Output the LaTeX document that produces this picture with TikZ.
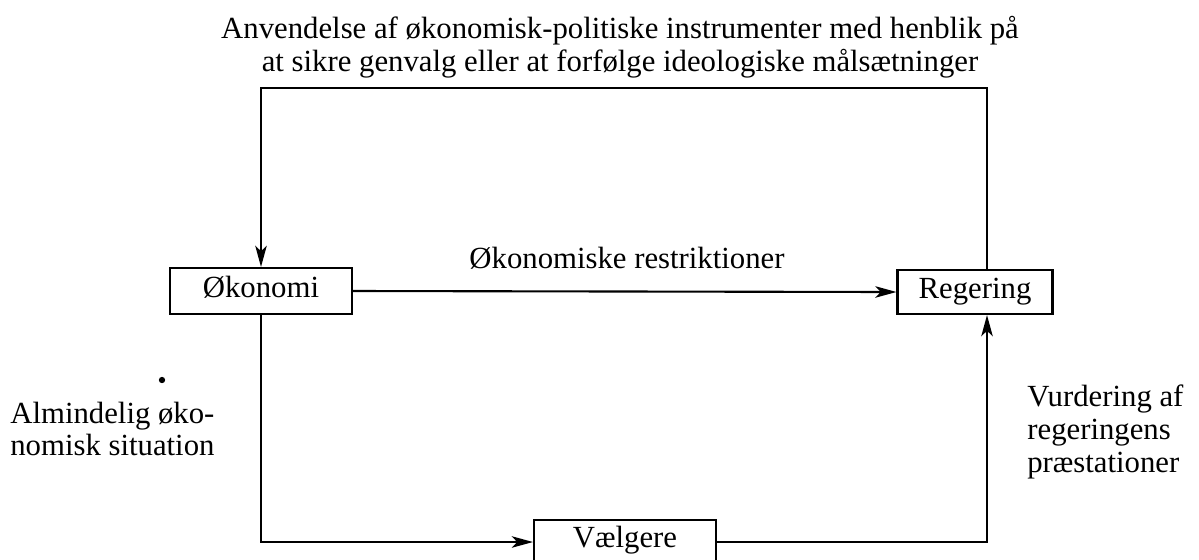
\documentclass[tikz,border=0pt]{standalone}
\usepackage{fontspec}
\setmainfont{Liberation Serif}
\usetikzlibrary{arrows.meta}
\begin{document}
\begin{tikzpicture}[x=0.02cm,y=-0.02cm,
  box/.style={draw,line width=1.2pt,minimum height=0.92cm,inner sep=0pt,text height=0.7em,text depth=0pt,font=\fontsize{17.5}{18}\selectfont},
  conn/.style={line width=1.2pt},
  arr/.style={conn,-{Stealth[length=12pt,width=6.5pt,inset=3pt]}},
  lbl/.style={font=\fontsize{17.5}{18.6}\selectfont,inner sep=0pt}]
\useasboundingbox (0,0) rectangle (1199,559);
\node[box,minimum width=3.64cm] (oko) at (261,291) {Økonomi};
\node[box,minimum width=3.1cm,minimum height=0.88cm] (reg) at (975,292) {Regering};
\node[box,minimum width=3.64cm,minimum height=0.84cm,anchor=north] (vae) at (625,519) {Vælgere};
\coordinate (tl) at (261,88);
\coordinate (tr) at (987,88);
\coordinate (bl) at (261,542);
\coordinate (br) at (987,542);
\draw[arr] (reg.north -| tr) -- (tr) -- (tl) -- (oko.north);
\draw[arr] (oko.east) -- (reg.west);
\draw[arr] (oko.south) -- (bl) -- (vae.west |- bl);
\draw[arr] (vae.east |- br) -- (br) -- (reg.south -| br);
\fill (162,380) circle (1.8pt);
\node[lbl,align=center] (title) at (620,47) {Anvendelse af økonomisk-politiske instrumenter med henblik på\\at sikre genvalg eller at forfølge ideologiske målsætninger};
\node[lbl] (restr) at (627,258) {Økonomiske restriktioner};
\node[lbl,align=left,anchor=west] (alm) at (10,429) {Almindelig øko-\\nomisk situation};
\node[lbl,align=left,anchor=west] (vur) at (1027,432) {Vurdering af\\regeringens\\præstationer};
\end{tikzpicture}
\end{document}
